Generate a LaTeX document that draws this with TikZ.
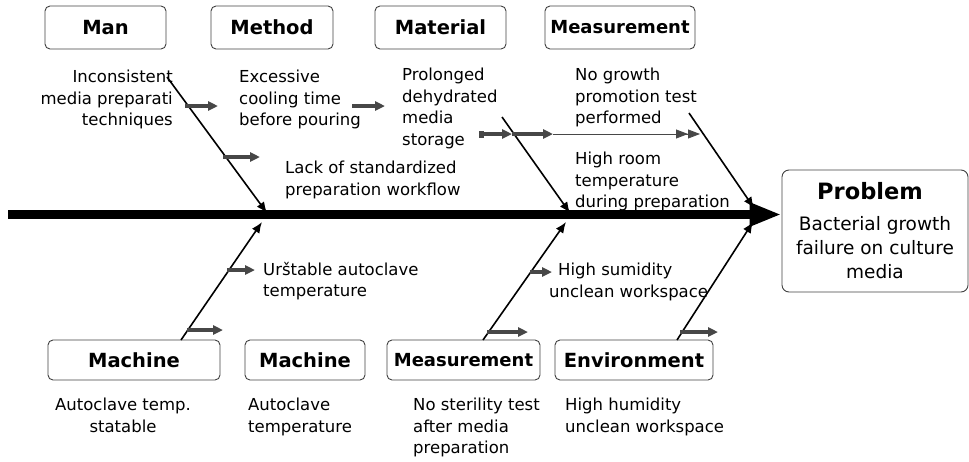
\documentclass[tikz,border=0pt]{standalone}
\usepackage{fontspec}
\setmainfont{DejaVu Sans}
\usetikzlibrary{arrows.meta}

\begin{document}
\begin{tikzpicture}[x=1pt,y=-1pt,
    catbox/.style={draw=black!75, line width=0.9pt, rounded corners=5pt, inner sep=0pt,
      minimum height=43pt, font=\bfseries\fontsize{19.5}{23}\selectfont},
    cause/.style={inner sep=0pt, font=\fontsize{16.5}{21.5}\selectfont},
    bone/.style={line width=1.6pt, -{Latex[length=11pt,width=9pt]}},
    twig/.style={draw=black!72, line width=3.5pt, -{Triangle[length=10pt,width=9pt]}},
    spine/.style={line width=9pt, -{Triangle[length=32pt,width=22pt]}}]
  \useasboundingbox (0,0) rectangle (969,461);

  % category boxes
  \node (man) at (105.5,27.5) [catbox, minimum width=121pt] {Man};
  \node (method) at (272,27.5) [catbox, minimum width=122pt] {Method};
  \node (material) at (440.5,27.5) [catbox, minimum width=131pt] {Material};
  \node (measure) at (620,27.5) [catbox, minimum width=150pt,
    font=\bfseries\fontsize{18}{22}\selectfont] {Measurement};

  \node (machine) at (134,360) [catbox, minimum width=172pt, minimum height=40pt] {Machine};
  \node (machinetwo) at (305,360) [catbox, minimum width=120pt, minimum height=40pt] {Machine};
  \node (measuretwo) at (463.5,360) [catbox, minimum width=153pt, minimum height=40pt,
    font=\bfseries\fontsize{18}{22}\selectfont] {Measurement};
  \node (environ) at (634,360) [catbox, minimum width=158pt, minimum height=40pt] {Environment};

  % problem
  \node (problem) at (875,231) [catbox, rounded corners=7pt, minimum width=186pt, minimum height=122pt] {};
  \node (probtitle) at (870,182) [anchor=north, inner sep=0pt,
    font=\bfseries\fontsize{22.5}{26}\selectfont] {Problem};
  \node (probtext) at (875,216) [anchor=north, inner sep=0pt, align=center,
    font=\fontsize{18.5}{24}\selectfont] {Bacterial growth\\failure on culture\\media};

  % causes
  \node (mantxt) at (173,70) [cause, anchor=north east, align=right] {Inconsistent\\media preparati\\techniques};
  \node (methodtxt) at (239,70) [cause, anchor=north west, align=left] {Excessive\\cooling time\\before pouring};
  \node (materialtxt) at (402,68) [cause, anchor=north west, align=left] {Prolonged\\dehydrated\\media\\storage};
  \node (measuretxt) at (575,68) [cause, anchor=north west, align=left] {No growth\\promotion test\\performed};
  \node (lacktxt) at (285,161) [cause, anchor=north west, align=left] {Lack of standardized\\preparation workflow};
  \node (roomtxt) at (575,152) [cause, anchor=north west, align=left] {High room\\temperature\\during preparation};
  \node (unstabletxt) at (263,262) [cause, anchor=north west, align=left] {Urštable autoclave\\temperature};
  \node (sumidtxt) at (549,263) [cause, anchor=north west, align=left] {\hspace*{9pt}High sumidity\\unclean workspace};

  \node (machinetxt) at (123,398) [cause, anchor=north, align=center] {Autoclave temp.\\statable};
  \node (machinetwotxt) at (248,398) [cause, anchor=north west, align=left] {Autoclave\\temperature};
  \node (sterilitytxt) at (413,398) [cause, anchor=north west, align=left] {No sterility test\\after media\\preparation};
  \node (environtxt) at (565,398) [cause, anchor=north west, align=left] {High humidity\\unclean workspace};

  % bones
  \coordinate (manA) at (167,77);
  \coordinate (manB) at (267,213);
  \coordinate (machA) at (181,340);
  \coordinate (machB) at (262,222);
  \coordinate (matA) at (502,117);
  \coordinate (matB) at (570,213);
  \coordinate (measA) at (483,340);
  \coordinate (measB) at (566,222);
  \coordinate (perfA) at (689,113);
  \coordinate (perfB) at (754,208);
  \coordinate (envA) at (677,340);
  \coordinate (envB) at (753,222);

  \draw[bone] (manA) -- (manB);
  \draw[bone] (machA) -- (machB);
  \draw[bone] (matA) -- (matB);
  \draw[bone] (measA) -- (measB);
  \draw[bone] (perfA) -- (perfB);
  \draw[bone] (envA) -- (envB);

  % spine
  \coordinate (tail) at (8,214.5);
  \draw[spine] (tail) -- (tail -| problem.west);

  % small arrows
  \coordinate (twigA) at (185,106);
  \coordinate (twigB) at (223,157);
  \coordinate (twigC) at (352,106);
  \coordinate (twigE) at (227,270);
  \coordinate (twigF) at (187,330);
  \coordinate (twigG) at (530,272);
  \coordinate (twigH) at (487,332);
  \coordinate (twigI) at (680,332);

  \draw[twig] (twigA) -- ++(33,0);
  \draw[twig] (twigB) -- ++(37,0);
  \draw[twig] (twigC) -- ++(33,0);
  \draw[twig] (twigE) -- ++(28,0);
  \draw[twig] (twigF) -- ++(36,0);
  \draw[twig] (twigG) -- ++(22,0);
  \draw[twig] (twigH) -- ++(41,0);
  \draw[twig] (twigI) -- ++(38,0);

  \coordinate (storeA) at (479,134);
  \coordinate (storeB) at (512,134);
  \coordinate (storeC) at (553,134);
  \coordinate (storeD) at (700,134);
  \draw[twig, {Square[length=5pt,width=7pt]}-{Triangle[length=10pt,width=9pt]}] (storeA) -- (storeB);
  \draw[twig] (storeB) -- (storeC);
  \draw[line width=0.8pt, black!72, -{Triangle[length=12pt,width=9pt] Triangle[length=12pt,width=9pt]}] (storeC) -- (storeD);
\end{tikzpicture}
\end{document}
